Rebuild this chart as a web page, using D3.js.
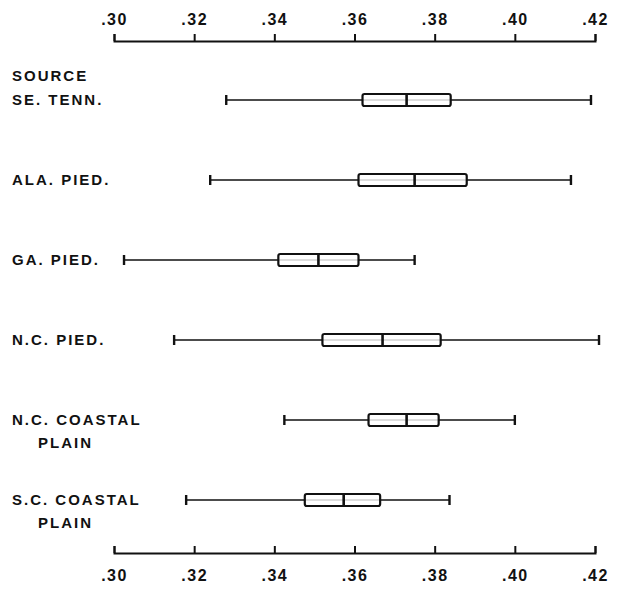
<!DOCTYPE html>
<html>
<head>
<meta charset="utf-8">
<script src="https://cdn.jsdelivr.net/npm/d3@7"></script>
<style>
  html, body { margin: 0; padding: 0; background: #fff; }
  svg { display: block; }
  .lbl, .tick text { font-family: "Liberation Sans", Arial, sans-serif; font-weight: bold; fill: #111; }
</style>
</head>
<body>
<svg id="chart" width="621" height="590"></svg>
<script>
// Seed-source groups and their box-plot summaries
const categories = ["SE. TENN.", "ALA. PIED.", "GA. PIED.", "N.C. PIED.", "N.C. COASTAL", "S.C. COASTAL"];
const headLines  = ["SOURCE", "", "", "", "", ""];
const tailLines  = ["", "", "", "", "PLAIN", "PLAIN"];
const minValues    = [0.328, 0.324, 0.3025, 0.315, 0.3425, 0.318];
const q1Values     = [0.362, 0.361, 0.341, 0.352, 0.3635, 0.3476];
const medianValues = [0.373, 0.375, 0.351, 0.367, 0.373, 0.3573];
const q3Values     = [0.384, 0.388, 0.361, 0.3815, 0.381, 0.3664];
const maxValues    = [0.419, 0.414, 0.375, 0.421, 0.400, 0.3837];
const tickValues   = [0.30, 0.32, 0.34, 0.36, 0.38, 0.40, 0.42];

const rows = categories.map((name, i) => ({
  name, head: headLines[i], tail: tailLines[i],
  min: minValues[i], q1: q1Values[i], med: medianValues[i], q3: q3Values[i], max: maxValues[i]
}));

const svg = d3.select("#chart");
const ink = "#111";

const x = d3.scaleLinear().domain([0.30, 0.42]).range([114, 595]);
const y = d3.scalePoint().domain(categories).range([100, 500]);

const fmt = d => d3.format(".2f")(d).replace(/^0/, "");

// Top axis: ticks point up, labels above
const topAxis = d3.axisTop(x).tickValues(tickValues).tickFormat(fmt)
  .tickSizeInner(7).tickSizeOuter(7).tickPadding(9);
const gTop = svg.append("g").attr("transform", "translate(0,41)").call(topAxis);

// Bottom axis: ticks also point up, labels below
const bottomAxis = d3.axisBottom(x).tickValues(tickValues).tickFormat(fmt)
  .tickSizeInner(-7).tickSizeOuter(-7).tickPadding(17);
const gBot = svg.append("g").attr("transform", "translate(0,553)").call(bottomAxis);

[gTop, gBot].forEach(g => {
  g.select(".domain").attr("stroke", ink).attr("stroke-width", 2).attr("fill", "none");
  g.selectAll(".tick line").attr("stroke", ink).attr("stroke-width", 2);
  g.selectAll(".tick text").attr("font-size", 16).style("letter-spacing", "1.5px").attr("fill", ink);
});

// Row labels
const lab = svg.append("g");
const labSize = 15, labSpacing = "2px";
rows.forEach(r => {
  const cy = y(r.name);
  if (r.head) lab.append("text").attr("class", "lbl").attr("x", 12).attr("y", cy - 24 + 5)
    .attr("font-size", labSize).style("letter-spacing", labSpacing).text(r.head);
  lab.append("text").attr("class", "lbl").attr("x", 12).attr("y", cy + 5)
    .attr("font-size", labSize).style("letter-spacing", labSpacing).text(r.name);
  if (r.tail) lab.append("text").attr("class", "lbl").attr("x", 38).attr("y", cy + 23 + 5)
    .attr("font-size", labSize).style("letter-spacing", labSpacing).text(r.tail);
});

// Box plots
const bh = 12, capH = 10;
const g = svg.append("g").selectAll("g").data(rows).join("g")
  .attr("transform", d => `translate(0,${y(d.name)})`);

g.append("line").attr("x1", d => x(d.min)).attr("x2", d => x(d.max))
  .attr("y1", 0).attr("y2", 0).attr("stroke", ink).attr("stroke-width", 1.6);
g.append("line").attr("x1", d => x(d.min)).attr("x2", d => x(d.min))
  .attr("y1", -capH / 2).attr("y2", capH / 2).attr("stroke", ink).attr("stroke-width", 2.4);
g.append("line").attr("x1", d => x(d.max)).attr("x2", d => x(d.max))
  .attr("y1", -capH / 2).attr("y2", capH / 2).attr("stroke", ink).attr("stroke-width", 2.4);
g.append("rect").attr("x", d => x(d.q1)).attr("width", d => x(d.q3) - x(d.q1))
  .attr("y", -bh / 2).attr("height", bh).attr("rx", 2)
  .attr("fill", "#fff").attr("stroke", ink).attr("stroke-width", 2.2);
g.append("line").attr("x1", d => x(d.q1)).attr("x2", d => x(d.q3))
  .attr("y1", 0).attr("y2", 0).attr("stroke", ink).attr("stroke-width", 0.8).attr("opacity", 0.35);
g.append("line").attr("x1", d => x(d.med)).attr("x2", d => x(d.med))
  .attr("y1", -bh / 2).attr("y2", bh / 2).attr("stroke", ink).attr("stroke-width", 2.6);
</script>
</body>
</html>
